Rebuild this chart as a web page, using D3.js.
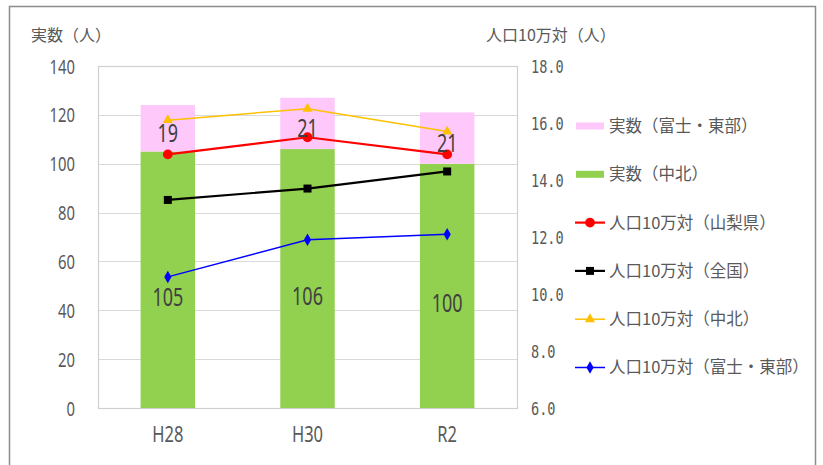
<!DOCTYPE html>
<html><head><meta charset="utf-8">
<script src="https://cdn.jsdelivr.net/npm/d3@7"></script>
<style>
html,body{margin:0;padding:0;background:#fff;}
svg{display:block;}
</style></head>
<body>
<script>
const categories = ["H28", "H30", "R2"];
const chuhoku = [105, 106, 100];
const fujiTobu = [19, 21, 21];
const rateYamanashi = [14.9, 15.5, 14.9];
const rateZenkoku = [13.3, 13.7, 14.3];
const rateChuhoku = [16.1, 16.5, 15.7];
const rateFujiTobu = [10.6, 11.9, 12.1];
const leftTicks = [0, 20, 40, 60, 80, 100, 120, 140];
const rightTicks = [6, 8, 10, 12, 14, 16, 18];

const W = 823, H = 465;
const M = {left: 98, top: 66, right: 517, bottom: 408};
const sans = "'Noto Sans','DejaVu Sans',sans-serif";
const mono = "'DejaVu Sans Mono','Liberation Mono',monospace";
const cjk = "'Noto Sans CJK JP',sans-serif";

const svg = d3.select("body").append("svg").attr("width", W).attr("height", H);
svg.append("rect").attr("x", 0).attr("y", 0).attr("width", W).attr("height", H).attr("fill", "#fff");
svg.append("rect").attr("x", 9.5).attr("y", 6.5).attr("width", 806).attr("height", 480)
  .attr("fill", "none").attr("stroke", "#8c8c8c").attr("stroke-width", 1.5);

const x = d3.scaleBand().domain(categories).range([M.left, M.right]).padding(0);
const yL = d3.scaleLinear().domain([0, 140]).range([M.bottom, M.top]);
const yR = d3.scaleLinear().domain([6, 18]).range([M.bottom, M.top]);
const barW = x.bandwidth() * 0.39;
const cx = d => x(d) + x.bandwidth() / 2;

// gridlines
svg.append("g").selectAll("line").data(leftTicks).join("line")
  .attr("x1", M.left).attr("x2", M.right)
  .attr("y1", d => Math.round(yL(d)) + 0.5).attr("y2", d => Math.round(yL(d)) + 0.5)
  .attr("stroke", "#d9d9d9").attr("stroke-width", 1.2);
svg.append("rect").attr("x", M.left + 0.5).attr("y", M.top + 0.5)
  .attr("width", M.right - M.left).attr("height", M.bottom - M.top)
  .attr("fill", "none").attr("stroke", "#cfcfcf").attr("stroke-width", 1.2);

// stacked bars
const stackData = categories.map((c, i) => ({c, a: chuhoku[i], b: fujiTobu[i]}));
svg.append("g").selectAll("rect").data(stackData).join("rect")
  .attr("x", d => cx(d.c) - barW / 2).attr("width", barW)
  .attr("y", d => yL(d.a)).attr("height", d => yL(0) - yL(d.a)).attr("fill", "#92d050");
svg.append("g").selectAll("rect").data(stackData).join("rect")
  .attr("x", d => cx(d.c) - barW / 2).attr("width", barW)
  .attr("y", d => yL(d.a + d.b)).attr("height", d => yL(d.a) - yL(d.a + d.b)).attr("fill", "#ffc8fa");

// axis labels (condensed by horizontal scaling)
const axL = d3.axisLeft(yL).tickValues(leftTicks).tickSize(0).tickPadding(0);
const gL = svg.append("g").attr("transform", `translate(75,0)`).call(axL);
gL.select(".domain").remove();
gL.selectAll("text").attr("font-family", sans).attr("font-size", 19.5).attr("fill", "#595959")
  .attr("dy", "0.36em").attr("transform", "scale(0.76,1)");

const axR = d3.axisRight(yR).tickValues(rightTicks).tickSize(0).tickPadding(0).tickFormat(d3.format(".1f"));
const gR = svg.append("g").attr("transform", `translate(531,0)`).call(axR);
gR.select(".domain").remove();
gR.selectAll("text").attr("font-family", mono)
  .attr("font-size", 17).attr("fill", "#595959").attr("dy", "0.36em").attr("transform", "scale(0.8,1)");

const axB = d3.axisBottom(x).tickSize(0).tickPadding(0);
const gB = svg.append("g").attr("transform", `translate(0,434)`).call(axB);
gB.select(".domain").remove();
gB.selectAll("text").attr("font-family", sans).attr("font-size", 22).attr("fill", "#595959")
  .attr("dy", "0.36em").attr("transform", "scale(0.75,1)");

// axis titles
svg.append("text").attr("x", 31).attr("y", 41).text("実数（人）")
  .attr("font-family", cjk).attr("font-size", 16).attr("fill", "#595959");
svg.append("text").attr("x", 486).attr("y", 41).text("人口10万対（人）")
  .attr("font-family", cjk).attr("font-size", 16).attr("fill", "#595959");

// lines
const lineSeries = [
  {name: "人口10万対（山梨県）", vals: rateYamanashi, color: "#ff0000", w: 2.2, shape: d3.symbolCircle, size: 75},
  {name: "人口10万対（全国）", vals: rateZenkoku, color: "#000000", w: 2.2, shape: d3.symbolSquare, size: 64},
  {name: "人口10万対（中北）", vals: rateChuhoku, color: "#ffc000", w: 1.5, shape: d3.symbolTriangle, size: 45},
  {name: "人口10万対（富士・東部）", vals: rateFujiTobu, color: "#0000ff", w: 1.5, shape: d3.symbolDiamond, size: 45}
];
const line = d3.line().x(d => cx(d.c)).y(d => yR(d.v));
lineSeries.forEach(s => {
  const pts = categories.map((c, i) => ({c, v: s.vals[i]}));
  svg.append("path").datum(pts).attr("d", line).attr("fill", "none")
    .attr("stroke", s.color).attr("stroke-width", s.w);
  svg.append("g").selectAll("path").data(pts).join("path")
    .attr("transform", d => `translate(${cx(d.c)},${yR(d.v)})`)
    .attr("d", d3.symbol().type(s.shape).size(s.size)).attr("fill", s.color);
});

// data labels
svg.append("g").selectAll("text").data(stackData).join("text")
  .attr("transform", d => `translate(${cx(d.c)},${(yL(0) + yL(d.a)) / 2 + 17}) scale(0.72,1)`)
  .attr("text-anchor", "middle").attr("dy", "0.36em").text(d => d.a)
  .attr("font-family", sans).attr("font-size", 25).attr("fill", "#404040");
svg.append("g").selectAll("text").data(stackData).join("text")
  .attr("transform", d => `translate(${cx(d.c)},${(yL(d.a) + yL(d.a + d.b)) / 2 + 5}) scale(0.72,1)`)
  .attr("text-anchor", "middle").attr("dy", "0.36em").text(d => d.b)
  .attr("font-family", sans).attr("font-size", 25).attr("fill", "#404040");

// legend
const legendItems = [
  {name: "実数（富士・東部）", type: "bar", color: "#ffc8fa"},
  {name: "実数（中北）", type: "bar", color: "#92d050"}
].concat(lineSeries.map(s => ({name: s.name, type: "line", s})));
const lg = svg.append("g");
legendItems.forEach((it, i) => {
  const y = 126 + i * 48.3;
  if (it.type === "bar") {
    lg.append("rect").attr("x", 576).attr("y", y - 3.5).attr("width", 28).attr("height", 7).attr("fill", it.color);
  } else {
    lg.append("line").attr("x1", 575).attr("x2", 605).attr("y1", y).attr("y2", y)
      .attr("stroke", it.s.color).attr("stroke-width", it.s.w);
    lg.append("path").attr("transform", `translate(590,${y})`)
      .attr("d", d3.symbol().type(it.s.shape).size(it.s.size)).attr("fill", it.s.color);
  }
  lg.append("text").attr("x", 609).attr("y", y).attr("dy", "0.36em").text(it.name)
    .attr("font-family", cjk).attr("font-size", 16.5).attr("fill", "#595959");
});
</script>
</body></html>
